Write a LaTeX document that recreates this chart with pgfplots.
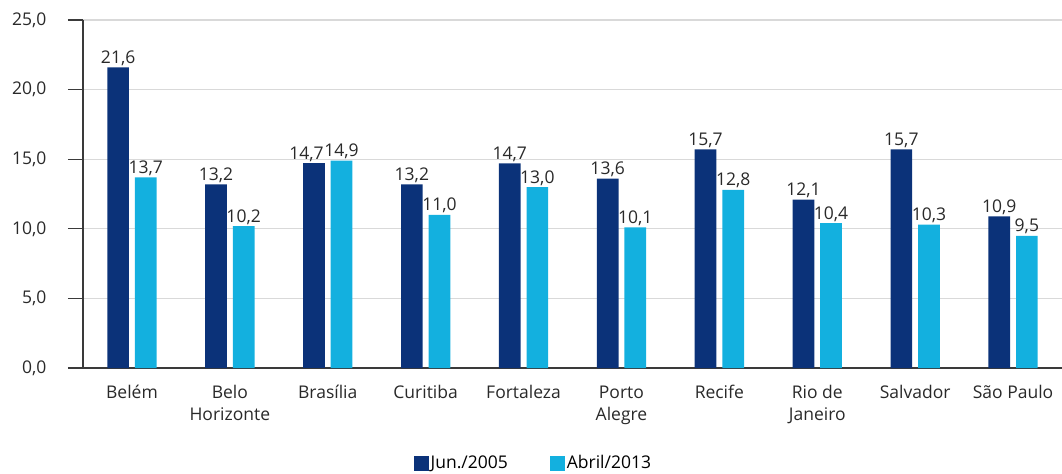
\documentclass[border=0pt]{standalone}
\usepackage{fontspec}
\setmainfont{Open Sans}
\usepackage{pgfplots}
\pgfplotsset{compat=1.18}
\definecolor{darkb}{HTML}{0B3279}
\definecolor{lightb}{HTML}{13B0DF}
\definecolor{axgray}{HTML}{3A3A3A}
\definecolor{gridg}{HTML}{D9D9D9}
\begin{document}
\begin{tikzpicture}
\begin{axis}[
  at={(0,0)}, anchor=south west,
  scale only axis, width=979bp, height=348bp,
  ybar, bar width=21.7bp,
  xmin=-0.5, xmax=9.5, ymin=0, ymax=25,
  axis lines=left, axis line style={-, draw=axgray, line width=1.3bp},
  ytick={0,5,10,15,20,25},
  xtick={0,...,9},
  xtick style={draw=none},
  ytick style={draw=axgray, line width=1.3bp},
  extra x ticks={-0.5,0.5,...,9.5},
  extra x tick labels={},
  extra x tick style={grid=none, tick style={draw=axgray, line width=1.3bp}},
  tick align=outside,
  major tick length=15bp,
  ymajorgrids, grid style={draw=gridg, line width=1.3bp},
  xticklabels={{\strut Belém},{\strut Belo\\Horizonte},{\strut Brasília},{\strut Curitiba},{\strut Fortaleza},{\strut Porto\\Alegre},{\strut Recife},{\strut Rio de\\Janeiro},{\strut Salvador},{\strut São Paulo}},
  xticklabel style={font=\fontsize{17.5bp}{22bp}\selectfont, align=center, anchor=north, inner sep=0pt, text=axgray!70!black},
  yticklabel style={font=\fontsize{17.5bp}{22bp}\selectfont, text=axgray!70!black, xshift=-18bp},
  /pgf/number format/.cd, use comma, fixed, fixed zerofill, precision=1, assume math mode=true,
  /pgfplots/.cd,
  nodes near coords,
  every node near coord/.append style={font=\fontsize{17.5bp}{22bp}\selectfont, anchor=base, inner sep=0pt, yshift=4bp, text=axgray!70!black},
  legend columns=2,
  legend style={at={(0.460,-0.273)}, anchor=center, draw=none, fill=none, font=\fontsize{17.5bp}{22bp}\selectfont, column sep=0bp, /tikz/every even column/.append style={column sep=40bp}},
  legend image code/.code={\fill[#1] (0bp,-7.5bp) rectangle (15bp,7.5bp);},
]
\addplot[fill=darkb, draw=none, bar shift=-13.8bp] coordinates {(0,21.6) (1,13.2) (3,13.2) (4,14.7) (5,13.6) (6,15.7) (7,12.1) (8,15.7) (9,10.9)};
\addplot[fill=lightb, draw=none, bar shift=13.8bp] coordinates {(0,13.7) (1,10.2) (2,14.9) (3,11.0) (4,13.0) (5,10.1) (6,12.8) (7,10.4) (8,10.3) (9,9.5)};
\addplot[fill=darkb, draw=none, bar shift=-13.8bp, forget plot, every node near coord/.append style={xshift=-7.5bp}] coordinates {(2,14.7)};
\legend{Jun./2005, Abril/2013}
\end{axis}
\pgfresetboundingbox
\useasboundingbox (-83bp,-106bp) rectangle (979bp,368bp);
\end{tikzpicture}
\end{document}
